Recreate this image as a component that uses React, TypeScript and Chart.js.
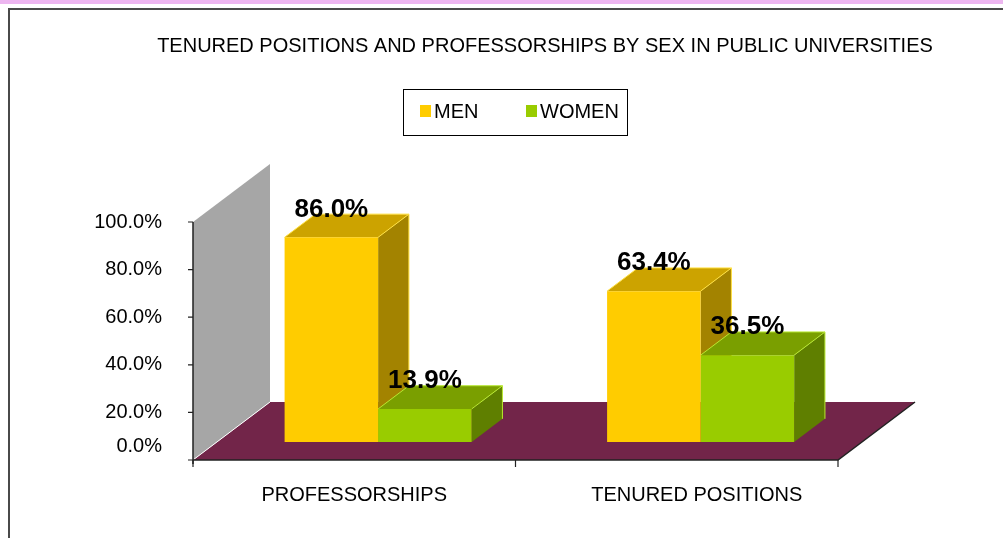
import React, { useEffect, useRef } from "react";
import { Chart, registerables } from "chart.js";

Chart.register(...registerables);

const TITLE = "TENURED POSITIONS AND PROFESSORSHIPS BY SEX IN PUBLIC UNIVERSITIES";
const categories = ["PROFESSORSHIPS", "TENURED POSITIONS"];
const seriesNames = ["MEN", "WOMEN"];
const menValues = [86.0, 63.4];
const womenValues = [13.9, 36.5];
const yTicks = [0, 20, 40, 60, 80, 100];

const W = 1003;
const H = 538;
const FONT = "'Liberation Sans', Arial, sans-serif";
const DEPTH = { x: 77, y: -58 };
const BAR_FRONT = 0.31;
const BAR_BACK = 0.71;
const FACE = [
  { front: "#FFCC00", top: "#CCA300", side: "#A38300", edge: "#FFE040" },
  { front: "#99CC00", top: "#7A9F00", side: "#5F7F00", edge: "#B8E830" },
];
const WALL = "#A6A6A6";
const FLOOR = "#722549";

function poly(ctx: CanvasRenderingContext2D, pts: number[][], fill: string) {
  ctx.beginPath();
  ctx.moveTo(pts[0][0], pts[0][1]);
  for (let i = 1; i < pts.length; i++) ctx.lineTo(pts[i][0], pts[i][1]);
  ctx.closePath();
  ctx.fillStyle = fill;
  ctx.fill();
}

const threeD = {
  id: "threeD",
  beforeDraw(chart: any) {
    const ctx: CanvasRenderingContext2D = chart.ctx;
    ctx.save();
    ctx.fillStyle = "#FFFFFF";
    ctx.fillRect(0, 0, W, H);
    ctx.fillStyle = "#EDB6F0";
    ctx.fillRect(0, 0, W, 4);
    ctx.fillStyle = "#4A4A4A";
    ctx.fillRect(8, 8, W - 8, 2);
    ctx.fillRect(8, 8, 2, H - 8);
    // title
    ctx.fillStyle = "#000";
    ctx.font = `20px ${FONT}`;
    ctx.textAlign = "center";
    ctx.textBaseline = "middle";
    ctx.fillText(TITLE, 545, 46);
    // legend
    ctx.strokeStyle = "#000";
    ctx.lineWidth = 1;
    ctx.strokeRect(403.5, 89.5, 224, 46);
    const items = [
      { x: 420, tx: 434 },
      { x: 526, tx: 540 },
    ];
    chart.data.datasets.forEach((ds: any, i: number) => {
      ctx.fillStyle = ds.backgroundColor;
      ctx.fillRect(items[i].x, 105, 11, 12);
      ctx.fillStyle = "#000";
      ctx.textAlign = "left";
      ctx.fillText(ds.label, items[i].tx, 112);
    });
    ctx.restore();
  },
  beforeDatasetsDraw(chart: any) {
    const ctx: CanvasRenderingContext2D = chart.ctx;
    const xs = chart.scales.x;
    const ys = chart.scales.y;
    const L = chart.chartArea.left;
    const R = chart.chartArea.right;
    const B = ys.getPixelForValue(0);
    const T = ys.getPixelForValue(100);
    ctx.save();
    // floor
    poly(ctx, [[L, B], [R, B], [R + DEPTH.x, B + DEPTH.y], [L + DEPTH.x, B + DEPTH.y]], FLOOR);
    // wall
    poly(ctx, [[L, B], [L, T], [L + DEPTH.x, T + DEPTH.y], [L + DEPTH.x, B + DEPTH.y]], WALL);
    ctx.strokeStyle = "#FFFFFF";
    ctx.lineWidth = 1;
    ctx.beginPath();
    ctx.moveTo(L, B);
    ctx.lineTo(L + DEPTH.x, B + DEPTH.y);
    ctx.stroke();
    // axes
    ctx.strokeStyle = "#222";
    ctx.lineWidth = 1.5;
    ctx.beginPath();
    ctx.moveTo(L, T);
    ctx.lineTo(L, B + 4);
    ctx.moveTo(L, B);
    ctx.lineTo(R, B);
    ctx.lineTo(R + DEPTH.x, B + DEPTH.y);
    ctx.stroke();
    ctx.lineWidth = 1.2;
    ctx.beginPath();
    yTicks.forEach((v) => {
      const y = ys.getPixelForValue(v);
      ctx.moveTo(L - 5, y);
      ctx.lineTo(L, y);
    });
    const nCat = categories.length;
    for (let i = 0; i <= nCat; i++) {
      const x = L + ((R - L) * i) / nCat;
      ctx.moveTo(x, B);
      ctx.lineTo(x, B + 7);
    }
    ctx.stroke();
    // y labels
    ctx.fillStyle = "#000";
    ctx.font = `20px ${FONT}`;
    ctx.textAlign = "right";
    ctx.textBaseline = "middle";
    yTicks.forEach((v) => {
      let y = ys.getPixelForValue(v);
      if (v === 0) y -= 14;
      ctx.fillText(v.toFixed(1) + "%", L - 31, y);
    });
    // x labels
    ctx.textAlign = "center";
    categories.forEach((c, i) => {
      ctx.fillText(c, xs.getPixelForValue(i) + (i === 0 ? 0 : 20), 495);
    });
    // bar tops and sides (fronts are drawn by Chart.js, shifted into depth)
    const fx = BAR_FRONT * DEPTH.x;
    const fy = BAR_FRONT * DEPTH.y;
    const dx = (BAR_BACK - BAR_FRONT) * DEPTH.x;
    const dy = (BAR_BACK - BAR_FRONT) * DEPTH.y;
    for (let i = 0; i < nCat; i++) {
      chart.data.datasets.forEach((_ds: any, d: number) => {
        const el = chart.getDatasetMeta(d).data[i];
        const p = el.getProps(["x", "y", "base", "width"], true);
        const left = p.x - p.width / 2 + fx;
        const right = p.x + p.width / 2 + fx;
        const top = p.y + fy;
        const bottom = p.base + fy;
        const c = FACE[d];
        poly(ctx, [[left, top], [right, top], [right + dx, top + dy], [left + dx, top + dy]], c.top);
        poly(ctx, [[right, top], [right, bottom], [right + dx, bottom + dy], [right + dx, top + dy]], c.side);
        ctx.strokeStyle = c.edge;
        ctx.lineWidth = 1;
        ctx.beginPath();
        ctx.moveTo(left, top);
        ctx.lineTo(left + dx, top + dy);
        ctx.lineTo(right + dx, top + dy);
        ctx.lineTo(right + dx, bottom + dy);
        ctx.moveTo(right, top);
        ctx.lineTo(right + dx, top + dy);
        ctx.stroke();
      });
    }
    ctx.restore();
    ctx.save();
    ctx.translate(fx, fy);
  },
  afterDatasetsDraw(chart: any) {
    const ctx: CanvasRenderingContext2D = chart.ctx;
    ctx.restore();
    const fx = BAR_FRONT * DEPTH.x;
    const fy = BAR_FRONT * DEPTH.y;
    ctx.save();
    ctx.fillStyle = "#000";
    ctx.font = `bold 26px ${FONT}`;
    ctx.textAlign = "center";
    ctx.textBaseline = "middle";
    chart.data.datasets.forEach((ds: any, d: number) => {
      chart.getDatasetMeta(d).data.forEach((el: any, i: number) => {
        const p = el.getProps(["x", "y"], true);
        ctx.fillText(ds.data[i].toFixed(1) + "%", p.x + fx, p.y + fy - 28);
      });
    });
    ctx.restore();
  },
};

export default function App() {
  const ref = useRef<HTMLCanvasElement | null>(null);
  useEffect(() => {
    if (!ref.current) return;
    const chart = new Chart(ref.current, {
      type: "bar",
      data: {
        labels: categories,
        datasets: [
          { label: seriesNames[0], data: menValues, backgroundColor: FACE[0].front, borderWidth: 0, clip: false as any },
          { label: seriesNames[1], data: womenValues, backgroundColor: FACE[1].front, borderWidth: 0, clip: false as any },
        ],
      },
      options: {
        responsive: false,
        devicePixelRatio: 1,
        animation: false,
        layout: { padding: { left: 193, right: 165, top: 222, bottom: 78 } },
        plugins: { legend: { display: false }, title: { display: false }, tooltip: { enabled: false } },
        datasets: { bar: { categoryPercentage: 0.58, barPercentage: 1 } },
        scales: {
          x: { display: false, grid: { display: false } },
          y: { display: false, min: 0, max: 100, grid: { display: false } },
        },
      },
      plugins: [threeD],
    });
    return () => chart.destroy();
  }, []);
  return (
    <div style={{ position: "absolute", left: 0, top: 0, width: W, height: H }}>
      <canvas ref={ref} width={W} height={H} style={{ display: "block" }} />
    </div>
  );
}
